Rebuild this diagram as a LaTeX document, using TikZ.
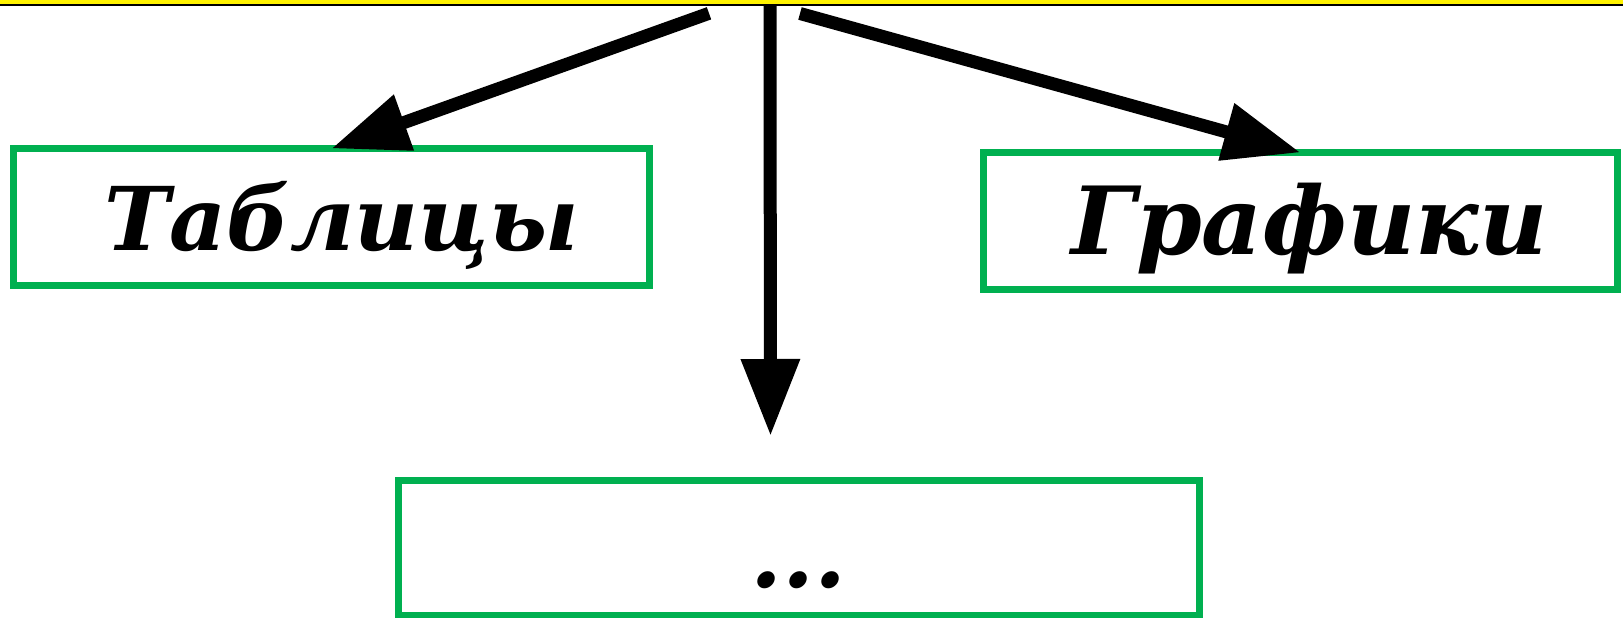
\documentclass[tikz,border=0pt]{standalone}
\usepackage{fontspec}
\setmainfont{DejaVu Serif}
\usetikzlibrary{arrows.meta}
\definecolor{boxgreen}{HTML}{00B050}
\begin{document}
\begin{tikzpicture}[x=1pt,y=-1pt,
  box/.style={draw=boxgreen, line width=7pt, outer sep=0pt, inner sep=0pt,
    font=\fontsize{92}{110}\selectfont\bfseries\itshape, text height=67pt, text depth=0pt},
  arrowline/.style={line width=13pt, -{Triangle[length=77pt,width=56pt]}}]
\useasboundingbox (0,0) rectangle (1623,618);
\fill[yellow] (0,0) rectangle (1623,4.5);
\draw[line width=1.6pt] (0,5.2) -- (1623,5.2);
\node[box, minimum width=636pt, minimum height=137pt] (tab) at (331.5,217) {\hspace*{20pt}\fontsize{88}{110}\selectfont Таблицы};
\node[box, minimum width=634pt, minimum height=137pt] (graf) at (1300.5,221) {\hspace*{18pt}\fontsize{94}{110}\selectfont Графики};
\node[box, minimum width=801pt, minimum height=134.5pt, text height=79pt] (etc) at (799,547.75) {...};
\coordinate (sL) at (709,13.3);
\coordinate (sM) at (770,6);
\coordinate (sR) at (800,13.5);
\coordinate (eM) at (770.5,436);
\draw[arrowline] (sL) -- (tab.north);
\draw[arrowline] (sM) -- (eM);
\draw[arrowline] (sR) -- (graf.north);
\end{tikzpicture}
\end{document}
